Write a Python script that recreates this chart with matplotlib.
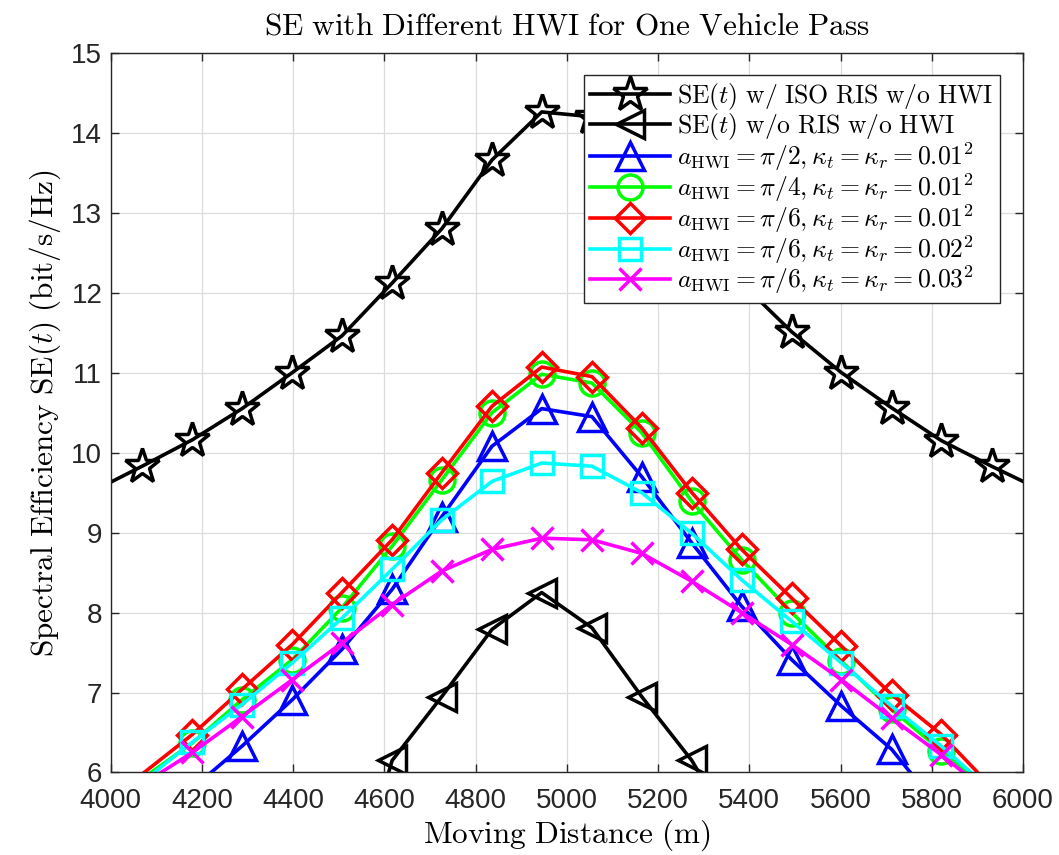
import numpy as np
import matplotlib

matplotlib.use("Agg")
import matplotlib.pyplot as plt

plt.rcParams["mathtext.fontset"] = "cm"
plt.rcParams["font.family"] = ["Liberation Sans", "DejaVu Sans"]

# moving distance (m): axis ends plus the marker positions
DIST = [4000, 4069, 4179, 4288, 4398, 4507, 4617, 4726, 4836, 4945,
        5055, 5164, 5274, 5383, 5493, 5602, 5712, 5821, 5931, 6000]

nan = np.nan
SE_ISO_RIS = [9.63, 9.83, 10.16, 10.55, 11.0, 11.46, 12.12, 12.8, 13.66, 14.26,
              14.2, 13.66, 12.8, 12.12, 11.51, 11.0, 10.56, 10.15, 9.83, 9.64]
SE_NO_RIS = [nan, nan, nan, nan, nan, 4.0, 6.15, 6.95, 7.79, 8.25,
             7.81, 6.95, 6.15, 5.1, nan, nan, nan, nan, nan, nan]
HWI_PI2_01 = [4.8, 5.2, 5.8, 6.33, 6.91, 7.54, 8.29, 9.2, 10.08, 10.55,
              10.45, 9.7, 8.87, 8.08, 7.41, 6.83, 6.29, 5.52, 4.9, 4.5]
HWI_PI4_01 = [5.6, 5.92, 6.37, 6.91, 7.41, 8.06, 8.83, 9.66, 10.5, 10.98,
              10.87, 10.25, 9.39, 8.66, 8.0, 7.39, 6.79, 6.27, 5.77, 5.4]
HWI_PI6_01 = [5.65, 5.98, 6.475, 7.04, 7.6, 8.25, 8.91, 9.75, 10.58, 11.07,
              10.95, 10.31, 9.5, 8.79, 8.18, 7.58, 6.975, 6.475, 5.82, 5.45]
HWI_PI6_02 = [5.55, 5.88, 6.38, 6.85, 7.37, 7.93, 8.54, 9.16, 9.64, 9.87,
              9.83, 9.5, 8.99, 8.41, 7.89, 7.37, 6.83, 6.33, 5.77, 5.4]
HWI_PI6_03 = [5.5, 5.85, 6.25, 6.7, 7.16, 7.62, 8.1, 8.52, 8.79, 8.93,
              8.91, 8.74, 8.39, 8.0, 7.6, 7.16, 6.68, 6.22, 5.72, 5.35]

SERIES = [
    (SE_ISO_RIS, "k", "*", r"$\mathrm{SE}(t)\ \mathrm{w/\ ISO\ RIS\ w/o\ HWI}$"),
    (SE_NO_RIS, "k", "<", r"$\mathrm{SE}(t)\ \mathrm{w/o\ RIS\ w/o\ HWI}$"),
    (HWI_PI2_01, "#0000ff", "^", r"$a_{\mathrm{HWI}}=\pi/2, \kappa_t=\kappa_r=0.01^2$"),
    (HWI_PI4_01, "#00ff00", "o", r"$a_{\mathrm{HWI}}=\pi/4, \kappa_t=\kappa_r=0.01^2$"),
    (HWI_PI6_01, "#ff0000", "D", r"$a_{\mathrm{HWI}}=\pi/6, \kappa_t=\kappa_r=0.01^2$"),
    (HWI_PI6_02, "#00ffff", "s", r"$a_{\mathrm{HWI}}=\pi/6, \kappa_t=\kappa_r=0.02^2$"),
    (HWI_PI6_03, "#ff00ff", "x", r"$a_{\mathrm{HWI}}=\pi/6, \kappa_t=\kappa_r=0.03^2$"),
]
MS = {"*": 26, "<": 20, "^": 20, "o": 18, "D": 15, "s": 16, "x": 16}

YMIN, YMAX = 6, 15


def main():
    fig = plt.figure(figsize=(10.59, 8.55), dpi=100)
    ax = fig.add_axes([0.1045, 0.0965, 0.8615, 0.8418])
    x = np.array(DIST, dtype=float)

    for vals, col, mk, lab in SERIES:
        y = np.array(vals, dtype=float)
        # MATLAB style: no marker for points outside the axes limits
        show = (x > 4000) & (x < 6000) & (y >= YMIN) & ~np.isnan(y)
        ax.plot(x, y, color=col, lw=2.6, marker=mk, ms=MS[mk],
                mfc="none", mew=2.5, markevery=list(np.where(show)[0]),
                label=lab)

    ax.set_xlim(4000, 6000)
    ax.set_ylim(YMIN, YMAX)
    ax.set_xticks(np.arange(4000, 6001, 200))
    ax.set_yticks(np.arange(6, 16, 1))
    ax.grid(True, color="#dcdcdc", lw=0.9)
    ax.set_axisbelow(True)
    ax.tick_params(direction="in", length=6, width=1.0, labelsize=20,
                   top=True, right=True, colors="#262626", pad=6)
    ax.tick_params(axis="x", pad=11)
    for s in ax.spines.values():
        s.set_color("#262626")
        s.set_linewidth(1.0)

    ax.set_title(r"$\mathrm{SE\ with\ Different\ HWI\ for\ One\ Vehicle\ Pass}$",
                 fontsize=22.5, pad=13)
    ax.set_xlabel(r"$\mathrm{Moving\ Distance\ (m)}$", fontsize=22.5, labelpad=3)
    ax.set_ylabel(r"$\mathrm{Spectral\ Efficiency\ SE}(t)\ \mathrm{(bit/s/Hz)}$",
                  fontsize=22.5, labelpad=6)

    leg = ax.legend(loc="upper right", fontsize=18.5, handlelength=3.1,
                    labelspacing=-0.06, borderpad=0.25, handletextpad=0.3,
                    borderaxespad=0, fancybox=False, framealpha=1,
                    edgecolor="#262626", bbox_to_anchor=(0.975, 0.969))
    leg.get_frame().set_linewidth(1.0)

    fig.savefig("out.png", dpi=100)


if __name__ == "__main__":
    main()
